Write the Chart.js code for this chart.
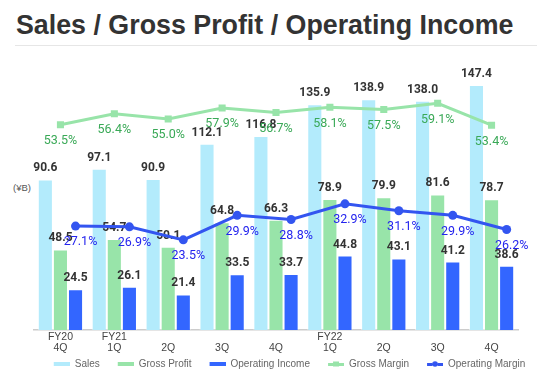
<!DOCTYPE html>
<html>
<head>
<meta charset="utf-8">
<script src="https://cdn.jsdelivr.net/npm/chart.js@4.4.1/dist/chart.umd.min.js"></script>
<style>
  html, body { margin: 0; padding: 0; background: #fff; }
  #wrap { position: relative; width: 537px; height: 379px; overflow: hidden; }
  h1 {
    position: absolute; left: 16px; top: 12px; margin: 0;
    font: bold 26.8px "Liberation Sans", Arial, sans-serif; line-height: 1;
    color: #333; white-space: nowrap;
  }
  .rule { position: absolute; left: 15px; right: 0; top: 45px; border-top: 1px solid #e6e6e6; }
  .unit {
    position: absolute; left: 13px; top: 183px;
    font: 9.5px "Liberation Sans", Arial, sans-serif; line-height: 1; color: #555;
  }
  canvas { position: absolute; left: 0; top: 0; }
</style>
</head>
<body>
<div id="wrap">
  <h1>Sales / Gross Profit / Operating Income</h1>
  <div class="rule"></div>
  <div class="unit">(¥B)</div>
  <canvas id="chart" width="537" height="379"></canvas>
</div>
<script>
// data
const fiscalYears = ["FY20", "FY21", "", "", "", "FY22", "", "", ""];
const quarters = ["4Q", "1Q", "2Q", "3Q", "4Q", "1Q", "2Q", "3Q", "4Q"];
const sales = [90.6, 97.1, 90.9, 112.1, 116.8, 135.9, 138.9, 138.0, 147.4];
const grossProfit = [48.5, 54.7, 50.1, 64.8, 66.3, 78.9, 79.9, 81.6, 78.7];
const operatingIncome = [24.5, 26.1, 21.4, 33.5, 33.7, 44.8, 43.1, 41.2, 38.6];
const grossMargin = [53.5, 56.4, 55.0, 57.9, 56.7, 58.1, 57.5, 59.1, 53.4];
const operatingMargin = [27.1, 26.9, 23.5, 29.9, 28.8, 32.9, 31.1, 29.9, 26.2];

const CAT_PCT = 0.84;
const BAR_SHIFT = CAT_PCT / 3; // OI bar sits one bar width right of the category centre
const Y_MAX = 162.5;
const Y2_MAX = 70.4;

const COLORS = {
  sales: "#b3ebfc",
  gross: "#98e4a9",
  oi: "#3366ff",
  gmLine: "#98e4a9",
  omLine: "#3355f0",
  gmText: "#3aa957",
  omText: "#2424ee",
};

// legend icons: 14px of blank lead-in, then the 16px marker
function legendIcon(color, kind) {
  const c = document.createElement("canvas");
  c.width = 30;
  c.height = 6;
  const g = c.getContext("2d");
  g.fillStyle = color;
  const x0 = 14;
  if (kind === "bar") {
    g.fillRect(x0, 1, 16, 4);
  } else {
    g.fillRect(x0, 2, 5, 3);
    g.fillRect(x0 + 11, 2, 5, 3);
    g.fillRect(x0 + 5, 2.5, 6, 2);
    if (kind === "rect") {
      g.fillRect(x0 + 5, 0.5, 6, 5);
    } else {
      g.beginPath();
      g.arc(x0 + 8, 3, 2.8, 0, Math.PI * 2);
      g.fill();
    }
  }
  return c;
}

const icons = [
  legendIcon(COLORS.sales, "bar"),
  legendIcon(COLORS.gross, "bar"),
  legendIcon(COLORS.oi, "bar"),
  legendIcon(COLORS.gmLine, "rect"),
  legendIcon(COLORS.omLine, "circle"),
];

const valueLabels = {
  id: "valueLabels",
  afterDatasetDraw(chart, args) {
    // bars are drawn last-to-first, so dataset 0 closes the bar layer;
    // labels go on top of all bars but under the margin lines
    if (args.index !== 0) return;
    const ctx = chart.ctx;
    ctx.save();
    ctx.textAlign = "center";
    ctx.textBaseline = "bottom";
    ctx.font = "bold 12px Roboto";
    ctx.fillStyle = "#333";
    chart.data.datasets.forEach((ds, di) => {
      const meta = chart.getDatasetMeta(di);
      if (meta.type !== "bar") return;
      meta.data.forEach((el, i) => {
        ctx.fillText(ds.data[i].y.toFixed(1), el.x, el.y - 5);
      });
    });
    ctx.restore();
  },
  afterDatasetsDraw(chart) {
    const ctx = chart.ctx;
    ctx.save();
    ctx.textAlign = "center";
    ctx.textBaseline = "top";
    ctx.font = "12.5px Roboto";
    chart.data.datasets.forEach((ds, di) => {
      const meta = chart.getDatasetMeta(di);
      if (meta.type !== "line") return;
      const isGm = ds.label === "Gross Margin";
      ctx.fillStyle = isGm ? COLORS.gmText : COLORS.omText;
      meta.data.forEach((el, i) => {
        ctx.fillText(ds.data[i].y.toFixed(1) + "%", el.x + (isGm ? 0 : 5), el.y + 10);
      });
    });
    ctx.restore();
  },
  afterLayout(chart) {
    // the legend row sits a bit right of centre in the reference
    chart.legend.left += 14;
    chart.legend.right += 14;
  },
};

const hiddenAxis = (pos, max, width) => ({
  position: pos,
  min: 0,
  max: max,
  grid: { display: false },
  border: { display: false },
  ticks: { display: false },
  afterFit(scale) {
    scale.width = width;
  },
});

const at = (values, shift) => values.map((v, i) => ({ x: i + shift, y: v }));

new Chart(document.getElementById("chart"), {
  data: {
    datasets: [
      {
        type: "bar",
        label: "Sales",
        data: at(sales, 0),
        backgroundColor: COLORS.sales,
        borderColor: "rgba(255,255,255,0.55)",
        borderWidth: 1,
        yAxisID: "y",
        order: 1,
      },
      {
        type: "bar",
        label: "Gross Profit",
        data: at(grossProfit, 0),
        backgroundColor: COLORS.gross,
        borderColor: "rgba(255,255,255,0.55)",
        borderWidth: 1,
        yAxisID: "y",
        order: 1,
      },
      {
        type: "bar",
        label: "Operating Income",
        data: at(operatingIncome, 0),
        backgroundColor: COLORS.oi,
        borderColor: "rgba(255,255,255,0.45)",
        borderWidth: 1,
        yAxisID: "y",
        order: 1,
      },
      {
        type: "line",
        label: "Gross Margin",
        data: at(grossMargin, 0),
        borderColor: COLORS.gmLine,
        backgroundColor: COLORS.gmLine,
        borderWidth: 3,
        pointStyle: "rect",
        pointRadius: 5,
        pointBorderWidth: 0,
        yAxisID: "y2",
        order: 0,
      },
      {
        type: "line",
        label: "Operating Margin",
        data: at(operatingMargin, BAR_SHIFT),
        borderColor: COLORS.omLine,
        backgroundColor: COLORS.omLine,
        borderWidth: 3,
        pointStyle: "circle",
        pointRadius: 4.5,
        pointBorderWidth: 0,
        yAxisID: "y2",
        order: 0,
      },
    ],
  },
  options: {
    responsive: false,
    animation: false,
    layout: { padding: { top: 60, left: 0, right: 0, bottom: 0 } },
    datasets: {
      bar: { barPercentage: 1, categoryPercentage: CAT_PCT },
    },
    scales: {
      x: {
        type: "linear",
        min: -0.5,
        max: 8.5,
        offset: false,
        grid: { display: false, drawTicks: false, tickLength: 0 },
        border: { color: "#cccccc", width: 1.5 },
        afterBuildTicks(scale) {
          scale.ticks = quarters.map((q, i) => ({ value: i }));
        },
        ticks: {
          color: "#444",
          font: { family: "Liberation Sans", size: 10.5, lineHeight: 1 },
          padding: 2,
          maxRotation: 0,
          autoSkip: false,
          callback: (v) => [fiscalYears[v], quarters[v]],
        },
      },
      y: hiddenAxis("left", Y_MAX, 33.5),
      y2: hiddenAxis("right", Y2_MAX, 18.5),
    },
    plugins: {
      tooltip: { enabled: false },
      legend: {
        position: "bottom",
        labels: {
          usePointStyle: true,
          pointStyleWidth: 30,
          padding: 4,
          color: "#666",
          font: { family: "Liberation Sans", size: 10 },
          generateLabels(chart) {
            return chart.data.datasets.map((ds, i) => ({
              text: ds.label,
              datasetIndex: i,
              pointStyle: icons[i],
              fillStyle: "transparent",
              strokeStyle: "transparent",
              lineWidth: 0,
              fontColor: "#666",
              hidden: false,
            }));
          },
        },
      },
    },
  },
  plugins: [valueLabels],
});
</script>
</body>
</html>
